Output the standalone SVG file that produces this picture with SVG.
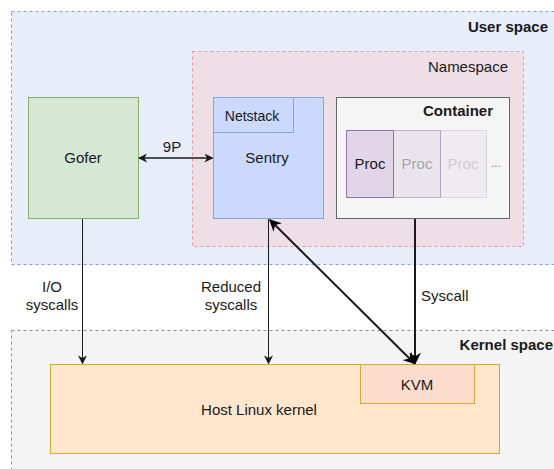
<svg xmlns="http://www.w3.org/2000/svg" width="554" height="469" viewBox="0 0 554 469">
<defs>
<style>
text{font-family:"Liberation Sans",Arial,sans-serif;font-size:15px;fill:#1a1a1a}
.c{text-anchor:middle}
.b{font-weight:bold;font-size:15px}
.conn{fill:none;stroke:#1a1a1a}
</style>
<marker id="ah" viewBox="0 0 10 10" refX="9" refY="5" markerWidth="9" markerHeight="9" markerUnits="userSpaceOnUse" orient="auto-start-reverse">
<path d="M0,0 L10,5 L0,10 L3,5 Z" fill="#1a1a1a"/>
</marker>
<marker id="ahb" viewBox="0 0 10 10" refX="9" refY="5" markerWidth="12" markerHeight="12" markerUnits="userSpaceOnUse" orient="auto-start-reverse">
<path d="M0,0 L10,5 L0,10 L3,5 Z" fill="#000"/>
</marker>
</defs>
<rect width="554" height="469" fill="#ffffff"/>
<g id="user-space">
<rect x="11.5" y="11.5" width="550" height="253" fill="#e7eefa" stroke="#7e9fcc" stroke-dasharray="3,3"/>
<text x="548" y="32" text-anchor="end" class="b">User space</text>
</g>
<g id="kernel-space">
<rect x="11.5" y="330.5" width="550" height="150" fill="#f4f4f4" stroke="#8c8c8c" stroke-dasharray="3,3"/>
<text x="553" y="350" text-anchor="end" class="b">Kernel space</text>
</g>
<g id="namespace">
<rect x="192.5" y="51.5" width="331" height="195" fill="#eedfe7" stroke="#e39a9c" stroke-dasharray="3,3"/>
<text x="508" y="72" text-anchor="end">Namespace</text>
</g>
<g id="gofer">
<rect x="28.5" y="97.5" width="110" height="121" fill="#d5e8d4" stroke="#82b366"/>
<text x="83" y="163" class="c">Gofer</text>
</g>
<g id="sentry">
<rect x="213.5" y="97.5" width="110" height="121" fill="#cad9fc" stroke="#7ea6e0"/>
<text x="267" y="163" class="c">Sentry</text>
</g>
<g id="netstack">
<rect x="213.5" y="97.5" width="80" height="35" fill="#cad9fc" stroke="#7ea6e0"/>
<text x="252" y="121" class="c" style="font-size:14px">Netstack</text>
</g>
<g id="container">
<rect x="336.5" y="97.5" width="173" height="121" fill="#f5f5f5" stroke="#666666"/>
<text x="493" y="116" text-anchor="end" class="b">Container</text>
</g>
<g id="proc1">
<rect x="346.5" y="130.5" width="47" height="67" fill="#e1d5e7" stroke="#9673a6"/>
<text x="370" y="169" class="c">Proc</text>
</g>
<g id="proc2" opacity="0.5">
<rect x="393.5" y="130.5" width="47" height="67" fill="#e1d5e7" stroke="#9673a6"/>
<text x="417" y="169" class="c" style="fill:#555">Proc</text>
</g>
<g id="proc3" opacity="0.25">
<rect x="440.5" y="130.5" width="46" height="67" fill="#e1d5e7" stroke="#9673a6"/>
<text x="463" y="169" class="c" style="fill:#555">Proc</text>
</g>
<g id="ellipsis">
<text x="496" y="167" class="c" style="fill:#888;font-size:12px">...</text>
</g>
<g id="host-kernel">
<rect x="50.5" y="364.5" width="449" height="89" fill="#ffe6cc" stroke="#e0a52a"/>
<text x="259" y="415" class="c">Host Linux kernel</text>
</g>
<g id="kvm">
<rect x="360.5" y="364.5" width="114" height="39" fill="#fcdccc" stroke="#e0a52a"/>
<text x="417" y="390" class="c">KVM</text>
</g>
<g id="connectors">
<line x1="139" y1="158" x2="212.5" y2="158" class="conn" stroke-width="1.5" marker-start="url(#ah)" marker-end="url(#ah)"/>
<line x1="82.5" y1="219" x2="82.5" y2="363.5" class="conn" marker-end="url(#ah)"/>
<line x1="268.5" y1="219" x2="268.5" y2="363.5" class="conn" marker-end="url(#ah)"/>
<line x1="415" y1="219" x2="415" y2="363.5" class="conn" stroke="#000" stroke-width="2" marker-end="url(#ahb)"/>
<line x1="270" y1="220" x2="414.5" y2="363.5" class="conn" stroke="#000" stroke-width="2" marker-start="url(#ahb)" marker-end="url(#ahb)"/>
<text x="172" y="152" class="c">9P</text>
<text x="52" y="292" class="c">I/O</text>
<text x="52" y="310" class="c">syscalls</text>
<text x="231" y="292" class="c">Reduced</text>
<text x="231" y="310" class="c">syscalls</text>
<text x="421" y="301">Syscall</text>
</g>
</svg>
